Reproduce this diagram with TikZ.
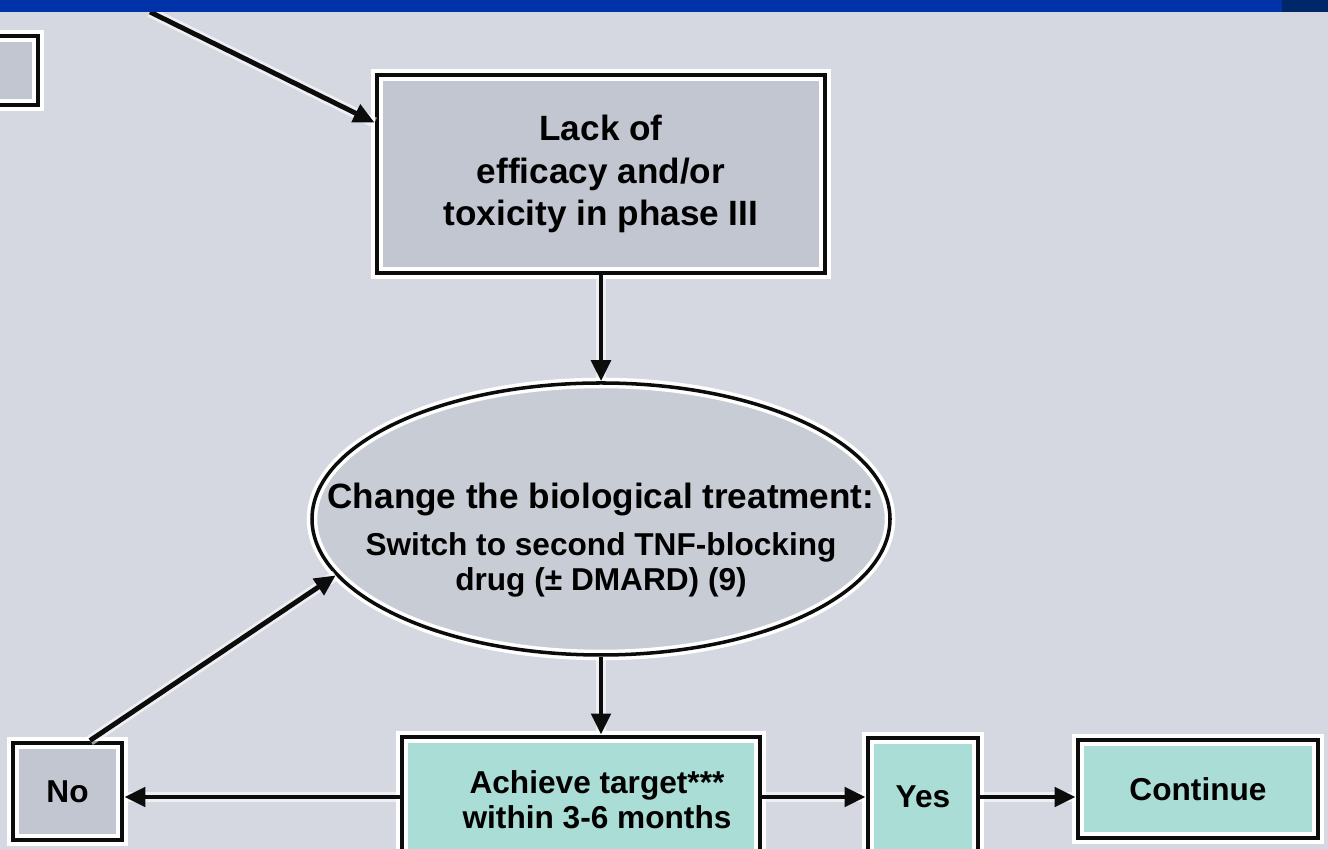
\documentclass[tikz,border=0pt]{standalone}
\usepackage{fontspec}
\setmainfont{Liberation Sans}
\usetikzlibrary{
    shapes.geometric,
    arrows.meta,
    positioning,
    calc
}
\definecolor{bgGray}{RGB}{213, 216, 225}
\definecolor{barBlue}{RGB}{0, 51, 170}
\definecolor{barDark}{RGB}{0, 40, 105}
\definecolor{boxGray}{RGB}{194, 198, 208}
\definecolor{ovalGray}{RGB}{200, 204, 213}
\definecolor{boxTeal}{RGB}{170, 221, 214}
\definecolor{lineBlack}{RGB}{12, 12, 12}
\def\figW{26.56}
\def\figH{16.98}
\tikzset{
    basic/.style={
        rectangle,
        draw=lineBlack,
        line width=2.8pt,
        inner sep=0pt,
        text centered,
        align=center,
        font=\bfseries\fontsize{18}{20}\selectfont
    },
    grayBox/.style={
        basic,
        preaction={fill=boxGray},
        preaction={draw=white, line width=7pt}
    },
    tealBox/.style={
        basic,
        preaction={fill=boxTeal},
        preaction={draw=white, line width=7pt}
    },
    decision/.style={
        ellipse,
        draw=lineBlack,
        line width=2pt,
        inner sep=0pt,
        preaction={fill=ovalGray},
        preaction={draw=white, line width=6pt}
    },
    boxText/.style={
        align=center,
        text=black,
        inner sep=0pt,
        font=\bfseries\fontsize{18}{20}\selectfont
    },
    connector/.style={
        draw=lineBlack,
        line width=2.8pt,
        preaction={draw=white, line width=6pt, opacity=0.6, -},
        -{Triangle[length=0.42cm, width=0.38cm]}
    }
}

\begin{document}
\begin{tikzpicture}
    \useasboundingbox (0,0) rectangle (\figW, \figH);
    \clip (0,0) rectangle (\figW, \figH);
    \fill[bgGray] (0,0) rectangle (\figW, \figH);

    % Boxes
    \node[grayBox, minimum width=1.96cm, minimum height=1.38cm] (prevBox) at (-0.22, 15.57) {};
    \node[grayBox, minimum width=8.96cm, minimum height=3.96cm, font=\bfseries\fontsize{20}{24}\selectfont] (lack) at (12.02, 13.5) {Lack of\\efficacy and/or\\toxicity in phase III};
    \node[decision, minimum width=11.56cm, minimum height=5.44cm] (change) at (12.02, 6.6) {};
    \node[boxText] (changeText) at ([yshift=-0.42cm]change.center) {{\fontsize{20}{24}\selectfont Change the biological treatment:}\\[7pt]Switch to second TNF-blocking\\drug (± DMARD) (9)};

    \node[tealBox, minimum width=7.16cm, minimum height=2.4cm] (achieve) at (11.62, 1.04) {};
    \node[boxText] (achieveText) at ([xshift=0.32cm, yshift=-0.06cm]achieve.center) {Achieve target***\\within 3-6 months};
    \node[grayBox, minimum width=2.18cm, minimum height=1.94cm] (no) at (1.35, 1.15) {No};
    \node[tealBox, minimum width=2.2cm, minimum height=2.36cm] (yes) at (18.46, 1.04) {Yes};
    \node[tealBox, minimum width=4.8cm, minimum height=1.96cm] (cont) at (23.96, 1.2) {Continue};

    % Paths
    \coordinate (topIn) at (3.0, 16.74);
    \draw[connector] (topIn) -- ([yshift=-1.0cm]lack.north west);
    \draw[connector] (lack.south) -- (change.north);
    \draw[connector] (change.south) -- (change.south |- achieve.north);
    \draw[connector] (achieve.west) -- (achieve.west -| no.east);
    \draw[connector] ([xshift=0.45cm]no.north) -- (change.192.5);
    \draw[connector] (achieve.east) -- (yes.west);
    \draw[connector] (yes.east) -- (yes.east -| cont.west);

    % Title bar
    \fill[barBlue] (0, 16.74) rectangle (\figW, \figH);
    \fill[barDark] (25.64, 16.74) rectangle (\figW, \figH);
\end{tikzpicture}
\end{document}
